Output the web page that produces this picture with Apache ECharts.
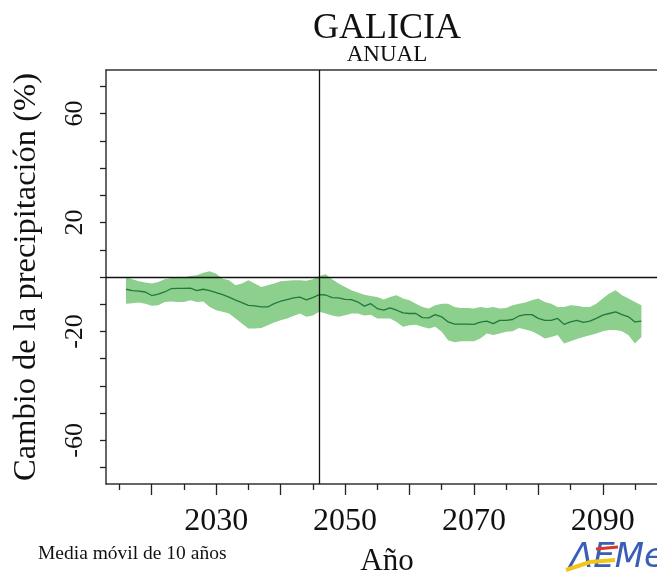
<!DOCTYPE html>
<html>
<head>
<meta charset="utf-8">
<script src="https://cdn.jsdelivr.net/npm/echarts@6/dist/echarts.min.js"></script>
<style>html,body{margin:0;padding:0;background:#fff;}#c{width:657px;height:573px;}</style>
</head>
<body>
<div id="c"></div>
<script>
var years = [];
for (var y = 2016; y <= 2096; y++) years.push(y);
var center = [-4.5,-5.0,-5.2,-5.5,-6.8,-6.3,-5.5,-4.3,-4.2,-4.2,-4.1,-5.0,-4.5,-5.0,-5.7,-6.5,-7.4,-8.5,-9.4,-10.4,
  -10.6,-11.0,-11.0,-9.8,-8.9,-8.3,-7.7,-7.4,-8.4,-7.6,-6.5,-6.6,-7.6,-7.7,-8.2,-8.3,-9.2,-10.7,-9.8,-11.6,
  -12.2,-11.3,-12.2,-13.2,-13.4,-13.4,-14.9,-15.0,-13.8,-14.6,-16.5,-17.3,-17.3,-17.3,-17.4,-16.6,-16.2,-17.1,-15.9,-15.9,
  -15.6,-14.3,-13.8,-13.8,-15.2,-15.9,-15.9,-15.2,-17.4,-16.5,-15.9,-16.7,-16.2,-15.2,-14.0,-13.4,-12.8,-13.8,-14.6,-16.5,-16.2];
var upper = [0,-0.8,-1.6,-2.0,-2.4,-1.8,-0.8,-0.4,-0.2,-0.2,0.4,0.6,1.6,2.1,1.2,-0.6,-1.2,-3.0,-2.4,-1.2,
  -2.4,-3.7,-3.0,-2.4,-1.6,-1.4,-1.2,-1.2,-1.4,-0.8,0.4,1.0,-0.8,-2.4,-3.7,-4.9,-5.7,-6.5,-7.0,-7.3,
  -8.3,-7.3,-6.7,-7.9,-8.5,-9.8,-11.0,-11.6,-10.4,-9.8,-9.8,-11.0,-11.4,-11.4,-11.6,-11.0,-11.4,-11.0,-11.6,-11.4,
  -10.4,-9.8,-9.4,-8.5,-7.9,-9.2,-9.8,-11.0,-11.0,-10.4,-10.6,-11.0,-11.0,-9.8,-7.9,-6.1,-4.9,-6.7,-7.9,-9.2,-10.4];
var lower = [-9.8,-9.6,-9.4,-9.8,-10.6,-10.4,-9.2,-9.0,-9.2,-9.2,-8.5,-9.2,-9.0,-11.0,-12.2,-12.8,-13.4,-15.2,-17.1,-18.9,
  -18.9,-18.7,-17.7,-16.7,-15.9,-15.2,-14.3,-13.4,-14.6,-14.1,-12.8,-13.4,-14.1,-14.6,-14.0,-13.4,-13.4,-14.1,-13.9,-15.2,
  -15.2,-15.2,-16.5,-18.3,-17.7,-17.5,-18.3,-18.9,-18.3,-20.1,-23.2,-24.0,-23.6,-23.6,-23.6,-22.6,-20.7,-21.3,-20.7,-20.1,
  -19.9,-18.7,-19.3,-19.9,-21.1,-22.6,-22.0,-21.3,-24.4,-23.6,-22.8,-22.0,-21.4,-20.7,-19.9,-19.5,-19.5,-19.9,-21.4,-24.4,-22.0];
var xMajorTicks = [2020,2030,2040,2050,2060,2070,2080,2090];
var xMinorTicks = [2015,2025,2035,2045,2055,2065,2075,2085,2095];
var xLabels = [2030,2050,2070,2090];
var yTicks = [-70,-60,-50,-40,-30,-20,-10,0,10,20,30,40,50,60,70];
var yLabels = [-60,-20,20,60];
var refYear = 2046;

var FONT = '"Liberation Serif","Times New Roman",serif';
var bandData = years.map(function(y,i){return [y, lower[i], upper[i]];});
var centerPairs = years.map(function(y,i){return [y, center[i]];});

function renderBand(params, api) {
  if (params.dataIndex !== 0) return null;
  var top = [], bot = [];
  for (var i = 0; i < bandData.length; i++) {
    top.push(api.coord([bandData[i][0], bandData[i][2]]));
    bot.push(api.coord([bandData[i][0], bandData[i][1]]));
  }
  var pts = top.concat(bot.reverse());
  return {type:'polygon', shape:{points:pts}, style:{fill:'#8dcf8d', stroke:null}, silent:true};
}

var chart = echarts.init(document.getElementById('c'), null, {renderer:'canvas'});
var BOX = {color:'#333', width:1.5};
var xBase = {type:'value', min:2012.9, max:2098.42, position:'bottom',
  axisLine:{show:false, onZero:false}, splitLine:{show:false}};
chart.setOption({
  animation:false,
  backgroundColor:'#fff',
  title:[
    {text:'GALICIA', left:382, top:6, textAlign:'center', textStyle:{fontFamily:FONT, fontSize:36, fontWeight:'normal', color:'#111'}},
    {text:'ANUAL', left:382, top:38, textAlign:'center', textStyle:{fontFamily:FONT, fontSize:23, fontWeight:'normal', color:'#111'}},
    {text:'Año', left:382, top:541, textAlign:'center', textStyle:{fontFamily:FONT, fontSize:31, fontWeight:'normal', color:'#111'}},
    {text:'Media móvil de 10 años', left:33, top:539, textStyle:{fontFamily:FONT, fontSize:19.5, fontWeight:'normal', color:'#111'}}
  ],
  grid:{left:106, top:70, right:0, bottom:89, show:false},
  xAxis:[
    Object.assign({}, xBase, {
      axisLine:{show:true, onZero:false, lineStyle:BOX},
      axisTick:{show:true, customValues:xMajorTicks, length:11, lineStyle:{color:'#222', width:1.3}},
      axisLabel:{show:true, customValues:xLabels, margin:22, fontFamily:FONT, fontSize:32, color:'#111',
        formatter:function(v){return String(v);}}
    }),
    Object.assign({}, xBase, {
      axisTick:{show:true, customValues:xMinorTicks, length:6, lineStyle:{color:'#222', width:1.3}},
      axisLabel:{show:false}
    }),
    Object.assign({}, xBase, {position:'top',
      axisLine:{show:true, onZero:false, lineStyle:BOX},
      axisTick:{show:false}, axisLabel:{show:false}
    })
  ],
  yAxis:{type:'value', min:-76, max:76,
    axisLine:{show:true, onZero:false, lineStyle:BOX}, splitLine:{show:false},
    axisTick:{show:true, customValues:yTicks, length:6, lineStyle:{color:'#222', width:1.3}},
    axisLabel:{show:true, customValues:yLabels, rotate:90, margin:18, fontFamily:FONT, fontSize:26, color:'#111'},
    name:'Cambio de la precipitación (%)', nameLocation:'middle', nameRotate:90, nameGap:63,
    nameTextStyle:{fontFamily:FONT, fontSize:32.5, color:'#111'}
  },
  series:[
    {type:'custom', data:bandData, renderItem:renderBand, silent:true, z:1,
     encode:{x:0, y:[1,2]}},
    {type:'line', data:centerPairs, symbol:'none', silent:true, z:3, lineStyle:{color:'#1f7a3c', width:1.3},
     markLine:{silent:true, symbol:'none', label:{show:false}, lineStyle:{color:'#111', width:1.3, type:'solid'},
       data:[{xAxis:refYear},{yAxis:0}]}}
  ],
  graphic:[
    {type:'text', left:570, top:541, style:{text:'ΛEMet', font:'italic 34px "DejaVu Sans",sans-serif', fill:'#3a5db8'}},
    {type:'polyline', shape:{points:[[566,570],[590,562],[615,560]]}, style:{stroke:'#f2c619', lineWidth:4, fill:null}},
    {type:'line', shape:{x1:596,y1:549,x2:618,y2:547}, style:{stroke:'#d83a2a', lineWidth:3}}
  ]
});
</script>
</body>
</html>
